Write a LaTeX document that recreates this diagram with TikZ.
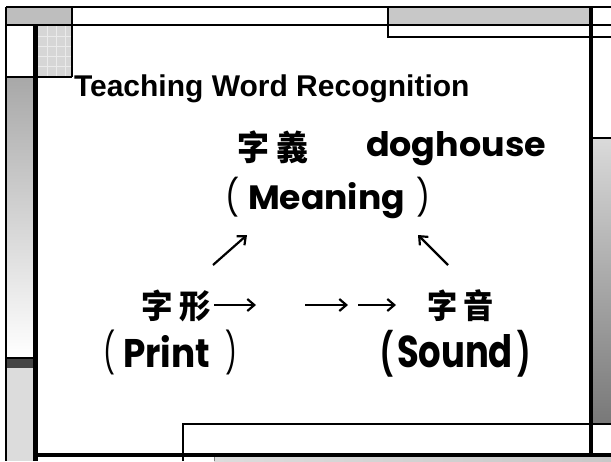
\documentclass[tikz,border=0pt]{standalone}
\usepackage{fontspec}
\usepackage{graphicx}
\newfontfamily\titlefont{Liberation Sans}
\newfontfamily\geo{Poppins}
\newfontfamily\cjk{Noto Sans CJK TC}
\usetikzlibrary{arrows.meta}
\definecolor{gA}{HTML}{BEBEBE}
\definecolor{gB}{HTML}{C8C8C8}
\definecolor{hatfill}{HTML}{D6D6D6}
\definecolor{hatline}{HTML}{EAEAEA}
\definecolor{gLtop}{HTML}{A8A8A8}
\definecolor{gDark}{HTML}{444444}
\definecolor{gLow}{HTML}{DCDCDC}
\definecolor{gRtop}{HTML}{DADADA}
\definecolor{gRbot}{HTML}{787878}
\newcommand{\fitbox}[3]{\resizebox{#1}{#2}{#3}}
\newcommand{\fitall}[3]{\resizebox*{#1}{#2}{#3}}
\begin{document}
\begin{tikzpicture}[x=1pt,y=-1pt,
  ln/.style={line width=2pt},
  frm/.style={line width=4.5pt},
  txt/.style={inner sep=0pt, outer sep=0pt},
  arr/.style={line width=2.2pt, -{Straight Barb[length=7pt,width=12pt,line width=2.2pt]}}]
\useasboundingbox (0,0) rectangle (611,461);
\fill[white] (0,0) rectangle (611,461);
% fills
\fill[gA] (6,7) rectangle (72,25);
\fill[gB] (388,7) rectangle (590,25);
\fill[hatfill] (38,26) rectangle (72,77);
\foreach \x in {47,56,65} \draw[hatline, line width=0.8pt] (\x,26) -- (\x,77);
\foreach \y in {36,46,56,66} \draw[hatline, line width=0.8pt] (38,\y) -- (72,\y);
\shade[top color=gLtop, bottom color=white] (6,77) rectangle (33,357);
\fill[gDark] (6,358) rectangle (33,368);
\fill[gLow] (6,368) rectangle (33,461);
\shade[top color=gRtop, bottom color=gRbot] (593,138) rectangle (611,424);
\shade[left color=gLow, right color=gB] (214,457) rectangle (611,461);
% thin lines
\draw[ln] (6,7) -- (611,7);
\draw[ln] (6,7) -- (6,461);
\draw[ln] (6,25) -- (611,25);
\draw[ln] (72,7) -- (72,77);
\draw[ln] (6,77) -- (72,77);
\draw[ln] (388,7) -- (388,37) -- (611,37);
\draw[ln] (6,357.5) -- (33,357.5);
\draw[ln] (593,138) -- (611,138);
\draw[ln] (183,461) -- (183,424) -- (611,424);
\draw[gray, line width=1pt] (214,457) -- (214,461);
% thick frame
\draw[frm] (35.5,25) -- (35.5,461);
\draw[frm] (591,7) -- (591,455);
\draw[frm] (33.5,455) -- (611,455);
% title
\node[txt, anchor=base west] (title) at (74,96)
  {\titlefont\bfseries\fontsize{30}{30}\selectfont Teaching Word Recognition};
% meaning
\node[txt, anchor=north west] (yi) at (237,131)
  {\fitall{71pt}{33pt}{\cjk\bfseries\fontsize{28}{28}\selectfont 字\hspace{0.22em}義}};
\node[txt, anchor=base west] (dog) at (366,156)
  {\fitbox{180pt}{25pt}{\geo\bfseries\fontsize{27}{27}\selectfont doghouse}};
\node[txt, anchor=north west] (mlp) at (225,177)
  {\fitall{14pt}{40pt}{\geo\fontsize{27}{27}\selectfont (}};
\node[txt, anchor=base west] (mean) at (248,209)
  {\fitbox{157pt}{27pt}{\geo\bfseries\fontsize{30}{30}\selectfont Meaning}};
\node[txt, anchor=north west] (mrp) at (416,177)
  {\fitall{14pt}{40pt}{\geo\fontsize{27}{27}\selectfont )}};
% print
\node[txt, anchor=north west] (xing) at (141,290)
  {\fitall{70pt}{32pt}{\cjk\bfseries\fontsize{28}{28}\selectfont 字\hspace{0.22em}形}};
\node[txt, anchor=north west] (plp) at (103,330)
  {\fitall{12pt}{45pt}{\geo\fontsize{30}{30}\selectfont (}};
\node[txt, anchor=base west] (print) at (123,367)
  {\fitbox{87pt}{32pt}{\geo\bfseries\fontsize{30}{30}\selectfont Print}};
\node[txt, anchor=north west] (prp) at (225,330)
  {\fitall{12pt}{45pt}{\geo\fontsize{30}{30}\selectfont )}};
% sound
\node[txt, anchor=north west] (yin) at (427,290)
  {\fitall{67pt}{32pt}{\cjk\bfseries\fontsize{28}{28}\selectfont 字\hspace{0.22em}音}};
\node[txt, anchor=north west] (slp) at (380,330)
  {\fitall{13pt}{47pt}{\geo\bfseries\fontsize{30}{30}\selectfont (}};
\node[txt, anchor=base west] (sound) at (397,367)
  {\fitbox{116pt}{33pt}{\geo\bfseries\fontsize{30}{30}\selectfont Sound}};
\node[txt, anchor=north west] (srp) at (517,330)
  {\fitall{13pt}{47pt}{\geo\bfseries\fontsize{30}{30}\selectfont )}};
% arrows
\coordinate (h1a) at (214,305); \coordinate (h1b) at (256,305);
\coordinate (h2a) at (305,305); \coordinate (h2b) at (348,305);
\coordinate (h3a) at (358,305); \coordinate (h3b) at (396,305);
\coordinate (dla) at (213,265); \coordinate (dlb) at (247,235);
\coordinate (dra) at (448,265); \coordinate (drb) at (418,235);
\draw[arr] (h1a) -- (h1b);
\draw[arr] (h2a) -- (h2b);
\draw[arr] (h3a) -- (h3b);
\draw[arr] (dla) -- (dlb);
\draw[arr] (dra) -- (drb);
\end{tikzpicture}
\end{document}
